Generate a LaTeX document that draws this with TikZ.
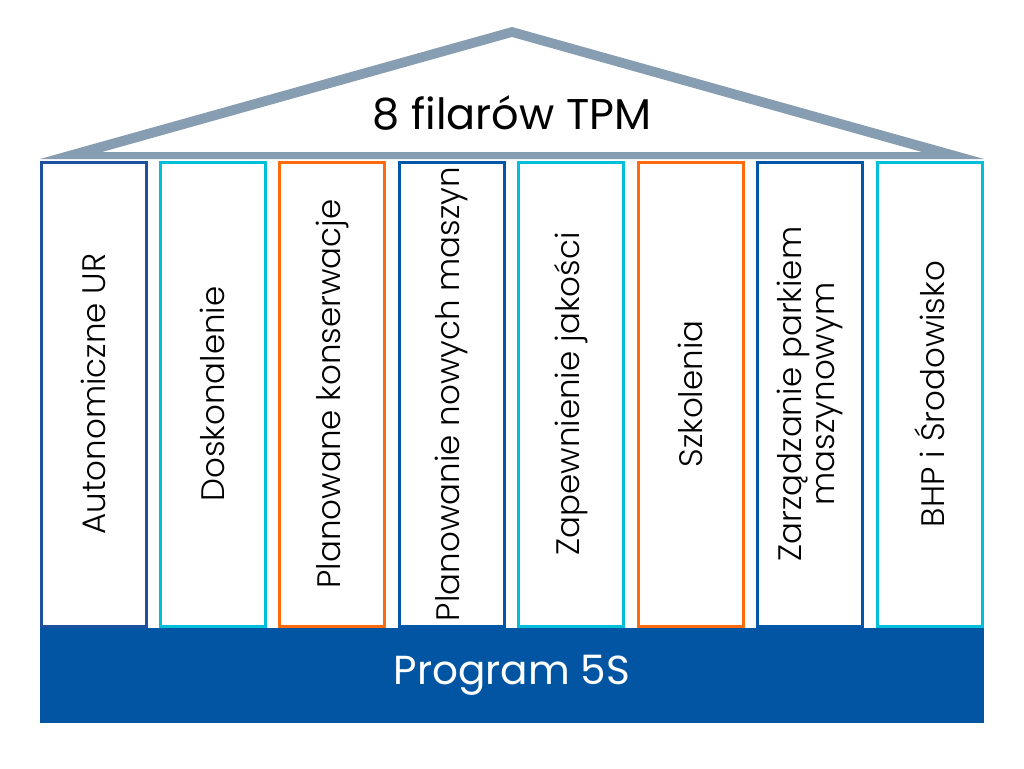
\documentclass[tikz,border=0pt]{standalone}
\usepackage{fontspec}
\setmainfont{Poppins}
\newfontfamily\lightfont{Poppins Light}
\definecolor{roof}{HTML}{879DB1}
\definecolor{dblue}{HTML}{1E50A0}
\definecolor{mblue}{HTML}{0057A8}
\definecolor{cyanc}{HTML}{00BFD8}
\definecolor{orangec}{HTML}{FF6A0D}
\definecolor{baseblue}{HTML}{0255A3}
\begin{document}
\begin{tikzpicture}[x=1pt,y=-1pt,
  pillar/.style={draw=#1, line width=3pt, fill=white, rotate=90,
    minimum width=464pt, minimum height=105pt, inner sep=0pt,
    align=center, font=\lightfont\fontsize{32.5}{33}\selectfont, text=black}]
\useasboundingbox (0,0) rectangle (1024,768);
% roof
\fill[roof, even odd rule] (40,159) -- (512,27) -- (984,159) -- cycle
  (102,152) -- (512,37) -- (922,152) -- cycle;
\node (title) at (512,113) {\fontsize{43}{46}\selectfont 8 filarów TPM};
% base
\node[fill=baseblue, minimum width=944pt, minimum height=95pt, inner sep=0pt,
  text=white, font=\fontsize{40.5}{44}\selectfont] (base) at (512,675.5) {Program 5S};
% pillars
\node[pillar=dblue]   (p1) at (93.5,394)  {Autonomiczne UR};
\node[pillar=cyanc]   (p2) at (212.9,394) {Doskonalenie};
\node[pillar=orangec] (p3) at (332.4,394) {Planowane konserwacje};
\node[pillar=mblue]   (p4) at (451.8,394) {Planowanie nowych maszyn};
\node[pillar=cyanc]   (p5) at (571.2,394) {Zapewnienie jakości};
\node[pillar=orangec] (p6) at (690.7,394) {Szkolenia};
\node[pillar=mblue]   (p7) at (810.1,394) {Zarządzanie parkiem\\maszynowym};
\node[pillar=cyanc]   (p8) at (929.5,394) {BHP i Środowisko};
\end{tikzpicture}
\end{document}
